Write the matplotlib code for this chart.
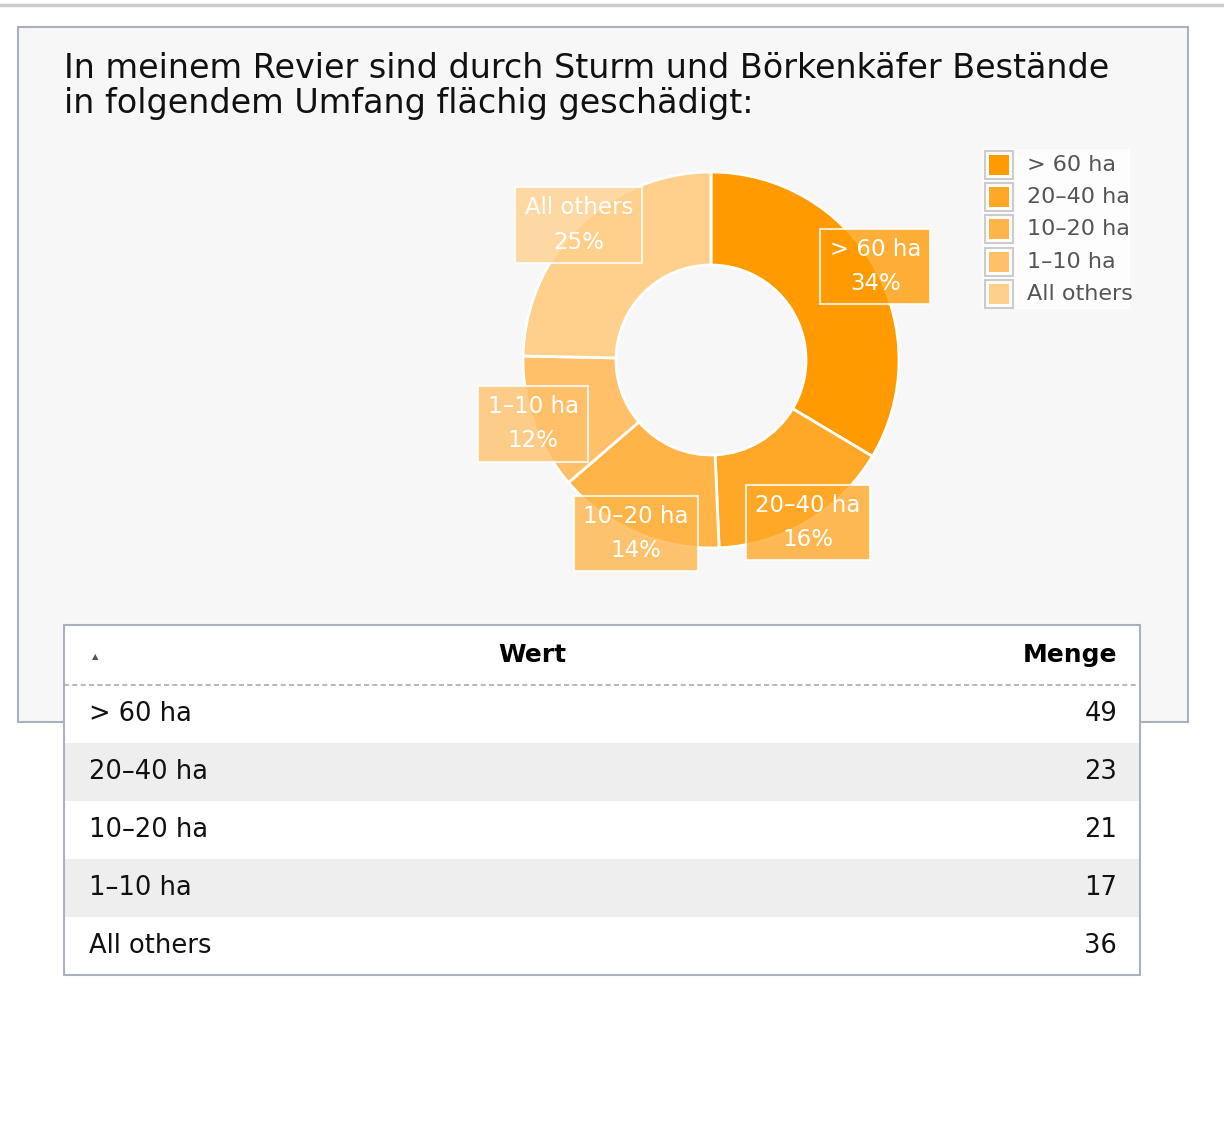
import numpy as np
import matplotlib
matplotlib.use("Agg")
import matplotlib.pyplot as plt
from matplotlib.patches import Rectangle

# ---- data ----
title_lines = ["In meinem Revier sind durch Sturm und Börkenkäfer Bestände",
               "in folgendem Umfang flächig geschädigt:"]
categories = ["> 60 ha", "20\u201340 ha", "10\u201320 ha", "1\u201310 ha", "All others"]
counts = [49, 23, 21, 17, 36]
colors = ["#ff9a00", "#ffa726", "#ffb447", "#ffc069", "#ffd08c"]
col_headers = ["Wert", "Menge"]

W, H = 1224, 1134
fig = plt.figure(figsize=(W / 100, H / 100), dpi=100)
fig.patch.set_facecolor("white")

# overlay axes in pixel coordinates (y downward)
ov = fig.add_axes([0, 0, 1, 1])
ov.set_xlim(0, W)
ov.set_ylim(H, 0)
ov.axis("off")

# top grey line
ov.plot([0, W], [5, 5], color="#cccccc", lw=2.5, zorder=1)
# panel
ov.add_patch(Rectangle((18, 27), 1170, 695, facecolor="#f7f7f7",
                       edgecolor="#a9b1c0", lw=1.5, zorder=1))
for k, line in enumerate(title_lines):
    ov.text(64, 69 + k * 35, line, fontsize=24, color="#111111", va="center",
            ha="left", zorder=3)

# ---- donut ----
cx, cy, R, r_in = 711, 360, 188, 95
half = 250
pie_ax = fig.add_axes([(cx - half) / W, (H - cy - half) / H, 2 * half / W, 2 * half / H])
wedges, _ = pie_ax.pie(counts, colors=colors, startangle=90, counterclock=False,
                       radius=1.0, wedgeprops=dict(width=(R - r_in) / R,
                                                   edgecolor="white", linewidth=2))
pie_ax.set_xlim(-half / R, half / R)
pie_ax.set_ylim(-half / R, half / R)
pie_ax.set_aspect("equal")
pie_ax.axis("off")
total = sum(counts)
for w, cat, val, col in zip(wedges, categories, counts, colors):
    th = np.deg2rad((w.theta1 + w.theta2) / 2)
    x, y = np.cos(th) * 1.005, np.sin(th) * 1.005
    pie_ax.text(x, y, f"{cat}\n{val / total * 100:.0f}%", ha="center", va="center",
                fontsize=16.5, color="white", linespacing=1.62, zorder=5,
                bbox=dict(boxstyle="square,pad=0.4", facecolor=col, alpha=0.78,
                          edgecolor="white", linewidth=1.5))

# ---- legend ----
ov.add_patch(Rectangle((982, 149), 148, 160, facecolor="#fdfdfd", edgecolor="none", zorder=2))
for i, (cat, col) in enumerate(zip(categories, colors)):
    yc = 165 + i * 32.2
    ov.add_patch(Rectangle((985, yc - 14), 28, 28, facecolor="#fdfdfd",
                           edgecolor="#cccccc", lw=1.5, zorder=3))
    ov.add_patch(Rectangle((989, yc - 10), 20, 20, facecolor=col,
                           edgecolor="none", zorder=4))
    ov.text(1027, yc, cat, fontsize=16, color="#555555", va="center", ha="left",
            zorder=4, clip_on=False)

# ---- table ----
tx0, tx1 = 64, 1140
ty0, head_h, row_h = 625, 60, 58
n = len(categories)
ty1 = ty0 + head_h + n * row_h
ov.add_patch(Rectangle((tx0, ty0), tx1 - tx0, ty1 - ty0, facecolor="white",
                       edgecolor="none", zorder=5))
for i, (cat, val) in enumerate(zip(categories, counts)):
    y0 = ty0 + head_h + i * row_h
    fc = "#eeeeee" if i % 2 == 1 else "white"
    ov.add_patch(Rectangle((tx0, y0), tx1 - tx0, row_h, facecolor=fc,
                           edgecolor="none", zorder=6))
    ov.text(89, y0 + row_h / 2, cat, fontsize=18.5, color="#111111",
            va="center", ha="left", zorder=7)
    ov.text(1117, y0 + row_h / 2, str(val), fontsize=18.5, color="#111111",
            va="center", ha="right", zorder=7)
ov.add_patch(Rectangle((tx0, ty0), tx1 - tx0, ty1 - ty0, facecolor="none",
                       edgecolor="#a9b1c0", lw=1.5, zorder=8))
ov.plot([tx0, tx1], [ty0 + head_h, ty0 + head_h], color="#aaaaaa", lw=1.2,
        ls=(0, (3, 2)), zorder=8)
ov.text(532, ty0 + 30, col_headers[0], fontsize=18, fontweight="bold",
        color="#000000", va="center", ha="center", zorder=7)
ov.text(1117, ty0 + 30, col_headers[1], fontsize=18, fontweight="bold",
        color="#000000", va="center", ha="right", zorder=7)
ov.text(95, ty0 + 32, "\u25b2", fontsize=6, color="#555555", va="center",
        ha="center", zorder=7)

fig.savefig("out.png", dpi=100, facecolor="white")
